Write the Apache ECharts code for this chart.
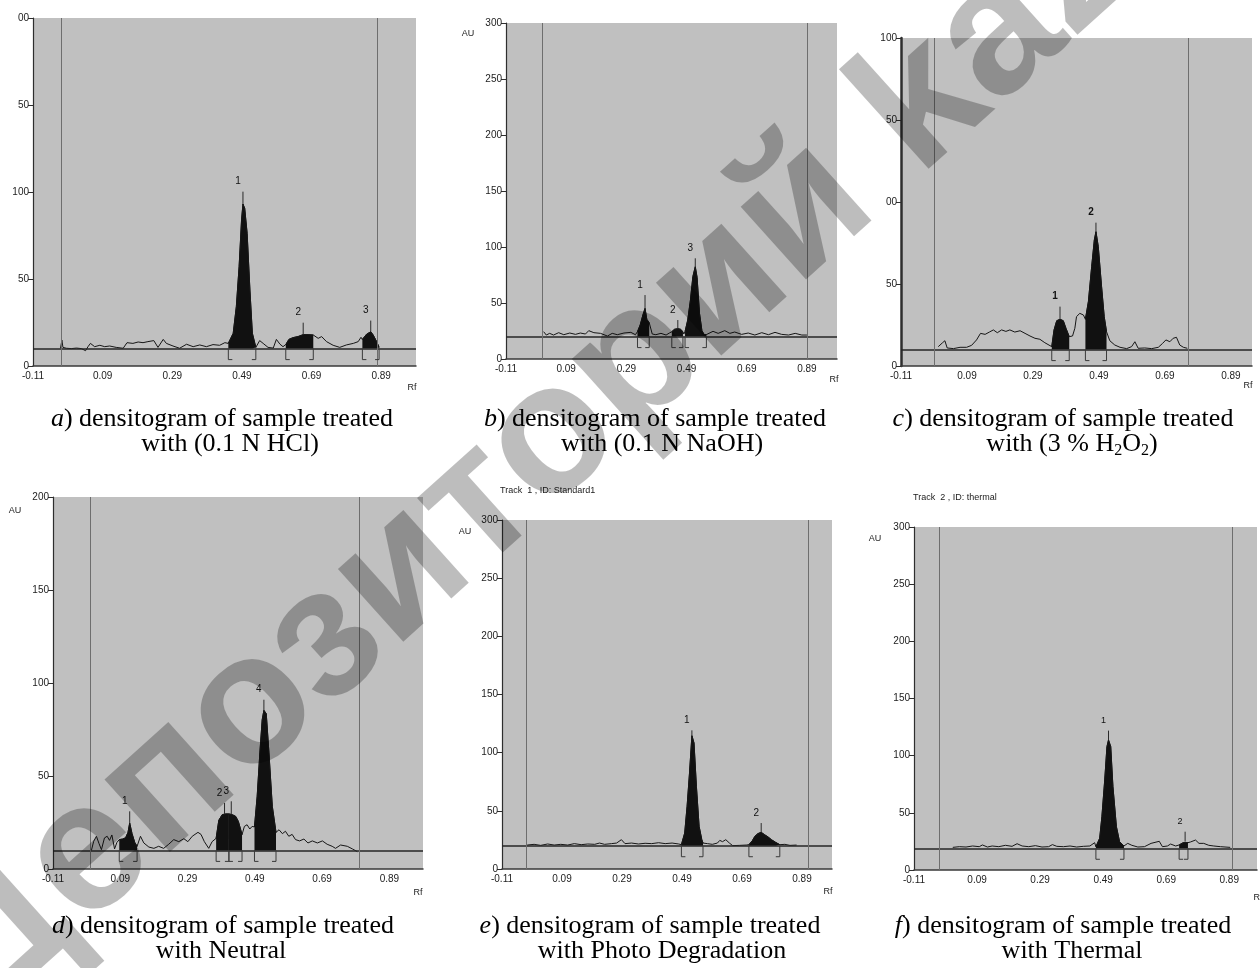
<!DOCTYPE html>
<html>
<head>
<meta charset="utf-8">
<script src="https://cdn.jsdelivr.net/npm/echarts@6.0.0/dist/echarts.min.js"></script>
<style>html,body{margin:0;padding:0;background:#fff}#chart{width:1260px;height:968px}</style>
</head>
<body>
<div id="chart"></div>
<script>
// ---------- shared tick labels ----------
const xTickLabels = ['-0.11','0.09','0.29','0.49','0.69','0.89'];
const yTicks300 = ['0','50','100','150','200','250','300'];

// ---------- panel a : 0.1 N HCl ----------
const aRf = [-0.031,-0.027,-0.024,-0.014,0.000,0.015,0.029,0.041,0.048,0.055,0.067,0.082,0.096,0.110,0.129,0.149,0.160,0.177,0.192,0.206,0.220,0.237,0.249,0.264,0.273,0.292,0.311,0.331,0.350,0.369,0.388,0.407,0.426,0.441,0.451,0.465,0.474,0.482,0.489,0.493,0.498,0.505,0.513,0.520,0.530,0.541,0.551,0.565,0.580,0.589,0.599,0.608,0.616,0.625,0.637,0.651,0.666,0.680,0.695,0.709,0.719,0.733,0.752,0.771,0.790,0.810,0.824,0.832,0.836,0.848,0.860,0.867,0.877,0.884];
const aAU = [10.2,14.9,10.7,10.2,10.0,10.3,10.0,8.8,11.1,13.0,11.1,11.9,11.1,11.5,10.7,10.2,13.4,13.0,13.8,13.4,14.0,14.6,10.7,15.3,13.0,11.5,10.2,12.5,11.1,12.1,11.1,12.3,11.9,13.4,13.0,18.8,34.1,57.1,83.9,93.1,90.6,76.2,43.7,18.8,10.7,14.6,13.0,10.7,10.3,15.3,12.6,11.1,12.3,15.3,16.3,16.9,18.0,18.0,17.8,15.9,16.9,14.0,11.9,10.7,12.1,13.0,14.0,16.5,15.3,18.2,19.7,17.8,14.0,10.7];
const aBaseline = 10;
const aScanLimits = [-0.033, 0.885];
const aPeakStart = [0.451, 0.616, 0.836];
const aPeakEnd = [0.530, 0.695, 0.884];
const aPeakRf = [0.493, 0.666, 0.860];
const aPeakAU = [93.1, 18.0, 19.7];
const aPeakTop = [100.2, 24.9, 26.1];
const aPeakLabel = ['1','2','3'];
const aYTickLabels = ['0','50','100','50','00'];

// ---------- panel b : 0.1 N NaOH ----------
const bRf = [0.015,0.024,0.035,0.048,0.065,0.082,0.102,0.121,0.137,0.154,0.165,0.182,0.204,0.227,0.243,0.260,0.282,0.305,0.320,0.327,0.336,0.345,0.352,0.358,0.366,0.372,0.376,0.388,0.405,0.422,0.433,0.441,0.450,0.461,0.470,0.478,0.481,0.485,0.494,0.503,0.511,0.519,0.525,0.533,0.541,0.548,0.556,0.561,0.578,0.595,0.617,0.634,0.650,0.673,0.695,0.717,0.740,0.762,0.784,0.806,0.829,0.851,0.873,0.890];
const bAU = [24.4,21.4,22.9,21.4,23.5,21.7,23.2,22.0,23.2,22.3,25.3,23.5,22.9,20.5,22.9,21.7,23.2,23.8,21.7,24.4,30.4,39.3,45.2,35.4,32.4,33.3,22.3,21.7,22.9,21.4,23.2,24.4,26.5,27.1,26.5,24.4,22.3,24.4,34.8,52.7,73.5,82.4,72.9,40.8,25.3,22.0,21.8,22.0,24.7,22.9,25.3,22.9,24.1,22.0,23.2,21.4,23.5,21.7,23.8,22.0,21.4,22.9,21.4,21.4];
const bBaseline = 20;
const bScanLimits = [0.014, 0.893];
const bPeakStart = [0.327, 0.441, 0.485];
const bPeakEnd = [0.366, 0.478, 0.556];
const bPeakRf = [0.352, 0.461, 0.519];
const bPeakAU = [45.2, 27.1, 82.4];
const bPeakTop = [57.1, 34.8, 89.9];
const bPeakLabel = ['1','2','3'];

// ---------- panel c : 3 % H2O2 ----------
const cRf = [0.003,0.016,0.023,0.030,0.049,0.069,0.089,0.104,0.119,0.131,0.145,0.158,0.170,0.182,0.195,0.208,0.220,0.235,0.251,0.266,0.281,0.296,0.311,0.326,0.347,0.354,0.362,0.372,0.382,0.390,0.400,0.410,0.417,0.422,0.432,0.443,0.449,0.458,0.468,0.476,0.481,0.488,0.498,0.506,0.513,0.523,0.538,0.554,0.574,0.589,0.599,0.609,0.629,0.650,0.670,0.683,0.693,0.705,0.715,0.725,0.735,0.746,0.758];
const cAU = [11.8,14.2,15.4,11.0,10.6,11.4,11.4,12.6,15.9,19.9,19.3,20.7,22.0,20.3,22.0,21.1,22.0,20.7,21.5,19.9,18.3,16.9,16.3,14.2,11.8,22.0,27.6,28.5,27.6,23.0,17.9,18.3,23.0,30.1,32.1,31.1,28.5,39.2,60.6,76.8,81.9,72.8,48.4,30.1,20.9,15.4,12.8,11.4,10.6,11.8,14.8,10.8,11.0,10.6,11.4,13.8,15.9,14.8,16.9,17.5,12.8,11.4,10.8];
const cBaseline = 10;
const cScanLimits = [-0.005, 0.761];
const cPeakStart = [0.347, 0.449];
const cPeakEnd = [0.400, 0.513];
const cPeakRf = [0.372, 0.481];
const cPeakAU = [28.5, 81.9];
const cPeakTop = [36.2, 87.4];
const cPeakLabel = ['1','2'];
const cYTickLabels = ['0','50','00','50','100'];

// ---------- panel d : Neutral ----------
const dRf = [0.004,0.011,0.019,0.027,0.034,0.043,0.051,0.058,0.065,0.073,0.080,0.087,0.097,0.106,0.113,0.118,0.125,0.133,0.140,0.150,0.160,0.175,0.190,0.204,0.219,0.234,0.249,0.264,0.279,0.291,0.304,0.321,0.330,0.340,0.353,0.363,0.375,0.383,0.393,0.403,0.413,0.423,0.433,0.441,0.448,0.452,0.459,0.467,0.475,0.482,0.489,0.497,0.505,0.512,0.517,0.524,0.532,0.542,0.553,0.562,0.572,0.581,0.591,0.601,0.611,0.623,0.636,0.648,0.661,0.676,0.691,0.705,0.720,0.730,0.745,0.765,0.780,0.795];
const dAU = [9.9,14.9,17.6,13.6,10.4,16.7,17.6,15.4,18.3,10.8,14.3,15.8,16.1,16.8,19.7,24.7,19.0,14.3,12.2,17.6,14.0,11.8,11.1,12.2,11.1,13.3,15.8,14.7,16.3,14.7,17.6,19.7,18.6,14.7,11.1,14.7,16.5,26.2,29.2,29.6,29.6,29.2,28.3,25.6,21.1,18.5,22.9,23.8,21.5,22.9,22.6,39.1,62.4,80.3,85.3,83.5,62.4,33.7,19.7,21.1,19.0,20.3,17.6,18.6,15.8,15.1,16.1,14.0,15.1,14.0,15.1,13.3,12.2,11.1,12.9,12.2,10.8,9.3];
const dBaseline = 10;
const dScanLimits = [0.004, 0.795];
const dPeakStart = [0.087, 0.375, 0.413, 0.489];
const dPeakEnd = [0.140, 0.413, 0.452, 0.553];
const dPeakRf = [0.118, 0.400, 0.420, 0.517];
const dPeakAU = [24.7, 29.6, 29.4, 85.3];
const dPeakTop = [31.0, 35.5, 36.4, 91.0];
const dPeakLabel = ['1','2','3','4'];
const dYTickLabels = ['0','50','100','150','200'];

// ---------- panel e : Photo degradation ----------
const eRf = [-0.026,-0.003,0.019,0.042,0.064,0.086,0.109,0.131,0.154,0.176,0.199,0.215,0.232,0.255,0.272,0.288,0.300,0.322,0.345,0.367,0.389,0.412,0.434,0.457,0.479,0.488,0.499,0.507,0.515,0.523,0.530,0.538,0.547,0.556,0.560,0.575,0.591,0.608,0.616,0.625,0.636,0.648,0.659,0.681,0.704,0.713,0.724,0.733,0.743,0.754,0.765,0.777,0.788,0.802,0.816,0.833,0.850,0.872];
const eAU = [20.6,21.2,20.3,21.5,20.6,21.2,20.6,21.8,20.9,21.5,21.2,22.3,21.2,21.8,22.3,25.2,21.8,22.3,21.5,22.1,21.8,22.6,21.8,22.3,21.5,20.9,30.9,53.9,82.5,114.6,108.3,71.1,36.7,25.2,22.3,21.8,21.2,22.3,24.6,23.5,25.2,22.3,20.1,20.3,20.6,20.9,24.1,28.1,30.4,31.5,29.5,27.5,25.2,22.9,20.9,21.2,20.3,20.6];
const eBaseline = 20;
const eScanLimits = [-0.034, 0.909];
const ePeakStart = [0.488, 0.713];
const ePeakEnd = [0.560, 0.816];
const ePeakRf = [0.523, 0.754];
const ePeakAU = [114.6, 31.5];
const ePeakTop = [119.2, 39.5];
const ePeakLabel = ['1','2'];

// ---------- panel f : Thermal ----------
const fRf = [0.013,0.034,0.055,0.076,0.097,0.107,0.123,0.138,0.159,0.180,0.201,0.217,0.233,0.254,0.275,0.296,0.317,0.329,0.343,0.364,0.385,0.406,0.427,0.448,0.463,0.467,0.479,0.486,0.495,0.502,0.507,0.514,0.521,0.532,0.542,0.556,0.568,0.581,0.600,0.621,0.642,0.668,0.678,0.694,0.704,0.720,0.731,0.744,0.750,0.759,0.767,0.783,0.794,0.809,0.825,0.841,0.862,0.893];
const fAU = [19.8,20.4,20.1,21.0,20.4,21.9,20.1,21.0,20.4,21.6,20.7,23.0,21.0,20.4,21.3,20.1,20.4,22.2,20.7,20.4,21.0,20.1,20.7,21.0,23.9,20.4,27.7,46.6,78.7,107.9,113.7,107.9,72.9,37.9,24.8,21.0,23.3,21.6,20.1,20.4,23.3,25.1,20.4,21.0,22.7,21.0,21.9,23.9,24.8,23.9,24.5,26.2,23.3,23.3,21.6,21.0,20.4,19.8];
const fBaseline = 19;
const fScanLimits = [-0.031, 0.902];
const fPeakStart = [0.467, 0.731];
const fPeakEnd = [0.556, 0.759];
const fPeakRf = [0.507, 0.750];
const fPeakAU = [113.7, 24.8];
const fPeakTop = [121.9, 33.5];
const fPeakLabel = ['1','2'];

// ---------- captions ----------
const captionLetters = ['a','b','c','d','e','f'];
const captionLine1 = ') densitogram of sample treated';
const captionLine2 = ['{n|with (0.1 N HCl)}','{n|with (0.1 N NaOH)}','{n|with (3 % H}{s|2}{n|O}{s|2}{n|)}','{n|with Neutral}','{n|with Photo Degradation}','{n|with Thermal}'];

// ====================================================================
const SHIFT = 0.11; // axis runs from Rf -0.11
const panels = [
  {rf:aRf, au:aAU, base:aBaseline, scan:aScanLimits, ps:aPeakStart, pe:aPeakEnd, pr:aPeakRf, pa:aPeakAU, pt:aPeakTop, pl:aPeakLabel, yMax:200, yLab:aYTickLabels,
   box:{left:33, top:18, width:383, height:348}, xSpan:1.1, axisW:1.2, bold:false, lbl:10},
  {rf:bRf, au:bAU, base:bBaseline, scan:bScanLimits, ps:bPeakStart, pe:bPeakEnd, pr:bPeakRf, pa:bPeakAU, pt:bPeakTop, pl:bPeakLabel, yMax:300, yLab:yTicks300,
   box:{left:506, top:23, width:331, height:336}, xSpan:1.1, axisW:1.2, bold:false, lbl:10},
  {rf:cRf, au:cAU, base:cBaseline, scan:cScanLimits, ps:cPeakStart, pe:cPeakEnd, pr:cPeakRf, pa:cPeakAU, pt:cPeakTop, pl:cPeakLabel, yMax:200, yLab:cYTickLabels,
   box:{left:901, top:38, width:351, height:328}, xSpan:1.064, axisW:2.5, bold:true, lbl:10},
  {rf:dRf, au:dAU, base:dBaseline, scan:dScanLimits, ps:dPeakStart, pe:dPeakEnd, pr:dPeakRf, pa:dPeakAU, pt:dPeakTop, pl:dPeakLabel, yMax:200, yLab:dYTickLabels,
   box:{left:53, top:497, width:370, height:372}, xSpan:1.1, axisW:1.2, bold:false, lbl:10},
  {rf:eRf, au:eAU, base:eBaseline, scan:eScanLimits, ps:ePeakStart, pe:ePeakEnd, pr:ePeakRf, pa:ePeakAU, pt:ePeakTop, pl:ePeakLabel, yMax:300, yLab:yTicks300,
   box:{left:502, top:520, width:330, height:349}, xSpan:1.1, axisW:1.2, bold:false, lbl:10},
  {rf:fRf, au:fAU, base:fBaseline, scan:fScanLimits, ps:fPeakStart, pe:fPeakEnd, pr:fPeakRf, pa:fPeakAU, pt:fPeakTop, pl:fPeakLabel, yMax:300, yLab:yTicks300,
   box:{left:914, top:527, width:346, height:343}, xSpan:1.088, axisW:1.2, bold:false, lbl:9}
];

const grid = [], xAxis = [], yAxis = [], series = [];
const SANS = 'Liberation Sans';
panels.forEach((p, i) => {
  grid.push(Object.assign({show:true, backgroundColor:'#c0c0c0', borderWidth:0}, p.box));
  xAxis.push({
    type:'value', gridIndex:i, min:0, max:p.xSpan, interval:0.2,
    axisLine:{show:true, onZero:false, lineStyle:{color:'#3a3a3a', width:1.5}},
    axisTick:{show:false}, splitLine:{show:false},
    axisLabel:{fontSize:10, color:'#222', fontFamily:SANS, margin:5,
      formatter:v => { const k = v/0.2, r = Math.round(k); return (Math.abs(k-r) < 1e-6 && xTickLabels[r] !== undefined) ? xTickLabels[r] : ''; }}
  });
  yAxis.push({
    type:'value', gridIndex:i, min:0, max:p.yMax, interval:50,
    axisLine:{show:true, onZero:false, lineStyle:{color:'#2e2e2e', width:p.axisW}},
    axisTick:{show:true, length:5, lineStyle:{color:'#2e2e2e'}}, splitLine:{show:false},
    axisLabel:{fontSize:10, color:'#222', fontFamily:SANS, margin:4, formatter:v => p.yLab[Math.round(v/50)] || ''}
  });
  const n = Math.min(p.rf.length, p.au.length);
  const pts = [];
  for (let j = 0; j < n; j++) pts.push([+(p.rf[j] + SHIFT).toFixed(4), p.au[j]]);
  series.push({
    type:'line', xAxisIndex:i, yAxisIndex:i, data:pts, showSymbol:false, symbol:'none', silent:true, z:4,
    lineStyle:{color:'#161616', width:1},
    markLine:{silent:true, symbol:'none', label:{show:false}, animation:false,
      data:[{yAxis:p.base, lineStyle:{color:'#262626', width:1.5, type:'solid'}}]
        .concat(p.scan.map(v => ({xAxis:+(v + SHIFT).toFixed(4), lineStyle:{color:'#6e6e6e', width:1, type:'solid'}})))}
  });
  p.ps.forEach((s, k) => {
    const lo = s + SHIFT - 1e-6, hi = p.pe[k] + SHIFT + 1e-6;
    const seg = pts.filter(q => q[0] >= lo && q[0] <= hi);
    series.push({type:'line', xAxisIndex:i, yAxisIndex:i, data:seg, showSymbol:false, symbol:'none', silent:true, z:3,
      lineStyle:{color:'#111', width:1}, areaStyle:{color:'#111', opacity:1, origin:p.base}});
  });
  // integration brackets
  series.push({
    type:'custom', xAxisIndex:i, yAxisIndex:i, silent:true, z:5, clip:false,
    data:p.ps.map((s, k) => [s + SHIFT, p.pe[k] + SHIFT, p.base]),
    encode:{x:[0,1], y:2},
    renderItem:(params, api) => {
      const a = api.coord([api.value(0), api.value(2)]);
      const b = api.coord([api.value(1), api.value(2)]);
      const d = 11, f = 4;
      return {type:'group', children:[
        {type:'polyline', shape:{points:[[a[0], a[1]], [a[0], a[1] + d], [a[0] + f, a[1] + d]]}, style:{stroke:'#3a3a3a', lineWidth:1, fill:null}},
        {type:'polyline', shape:{points:[[b[0], b[1]], [b[0], b[1] + d], [b[0] - f, b[1] + d]]}, style:{stroke:'#3a3a3a', lineWidth:1, fill:null}}
      ]};
    }
  });
  // peak maxima markers + numbers
  series.push({
    type:'custom', xAxisIndex:i, yAxisIndex:i, silent:true, z:6, clip:false,
    data:p.pr.map((r, k) => [r + SHIFT, p.pa[k], p.pt[k]]),
    encode:{x:0, y:[1,2]},
    renderItem:(params, api) => {
      const a = api.coord([api.value(0), api.value(1)]);
      const t = api.coord([api.value(0), api.value(2)]);
      return {type:'group', children:[
        {type:'line', shape:{x1:a[0], y1:a[1], x2:t[0], y2:t[1]}, style:{stroke:'#2a2a2a', lineWidth:1}},
        {type:'text', x:t[0] - 5, y:t[1] - 10, style:{text:p.pl[params.dataIndex], fill:'#111', fontSize:p.lbl, fontFamily:SANS,
          fontWeight:p.bold ? 'bold' : 'normal', align:'center', verticalAlign:'middle'}}
      ]};
    }
  });
});

// ---------- texts ----------
const SERIF = 'Liberation Serif';
const FS = 26;
const rich = {
  i:{fontStyle:'italic', fontSize:FS, fontFamily:SERIF, lineHeight:30, fill:'#000'},
  n:{fontSize:FS, fontFamily:SERIF, lineHeight:30, fill:'#000'},
  s:{fontSize:16, fontFamily:SERIF, lineHeight:16, verticalAlign:'bottom', fill:'#000'}
};
const capPos1 = [[222,419],[655,419],[1063,419],[223,926],[650,926],[1063,926]];
const capPos2 = [[230,444],[662,444],[1072,444],[221,951],[662,951],[1072,951]];
const graphic = [];
captionLetters.forEach((L, k) => {
  graphic.push({type:'text', x:capPos1[k][0], y:capPos1[k][1], z:10, silent:true,
    style:{text:'{i|' + L + '}{n|' + captionLine1 + '}', rich, fontSize:FS, fontFamily:SERIF, fill:'#000', align:'center', verticalAlign:'middle'}});
  graphic.push({type:'text', x:capPos2[k][0], y:capPos2[k][1], z:10, silent:true,
    style:{text:captionLine2[k], rich, fontSize:FS, fontFamily:SERIF, fill:'#000', align:'center', verticalAlign:'middle'}});
});
const small = (txt, x, y, size, align) => ({type:'text', x, y, z:10, silent:true,
  style:{text:txt, fontSize:size, fontFamily:SANS, fill:'#222', align:align || 'left', verticalAlign:'middle'}});
[[468,34],[15,511],[465,532],[875,539]].forEach(q => graphic.push(small('AU', q[0], q[1], 9, 'center')));
[[412,388],[834,380],[1248,386],[418,893],[828,892],[1258,898]].forEach(q => graphic.push(small('Rf', q[0], q[1], 9, 'center')));
graphic.push(small('Track  1 , ID: Standard1', 500, 491, 9));
graphic.push(small('Track  2 , ID: thermal', 913, 498, 9));
// watermark
graphic.push({type:'text', x:12, y:1050, rotation:42 * Math.PI / 180, z:100, silent:true,
  style:{text:'Депозиторий kaznu', fontSize:185, fontWeight:'bold', fontFamily:SANS, fill:'rgba(0,0,0,0.26)', align:'left', verticalAlign:'bottom'}});

const chart = echarts.init(document.getElementById('chart'), null, {renderer:'canvas', width:1260, height:968});
chart.setOption({animation:false, backgroundColor:'#fff', grid, xAxis, yAxis, series, graphic});
</script>
</body>
</html>
